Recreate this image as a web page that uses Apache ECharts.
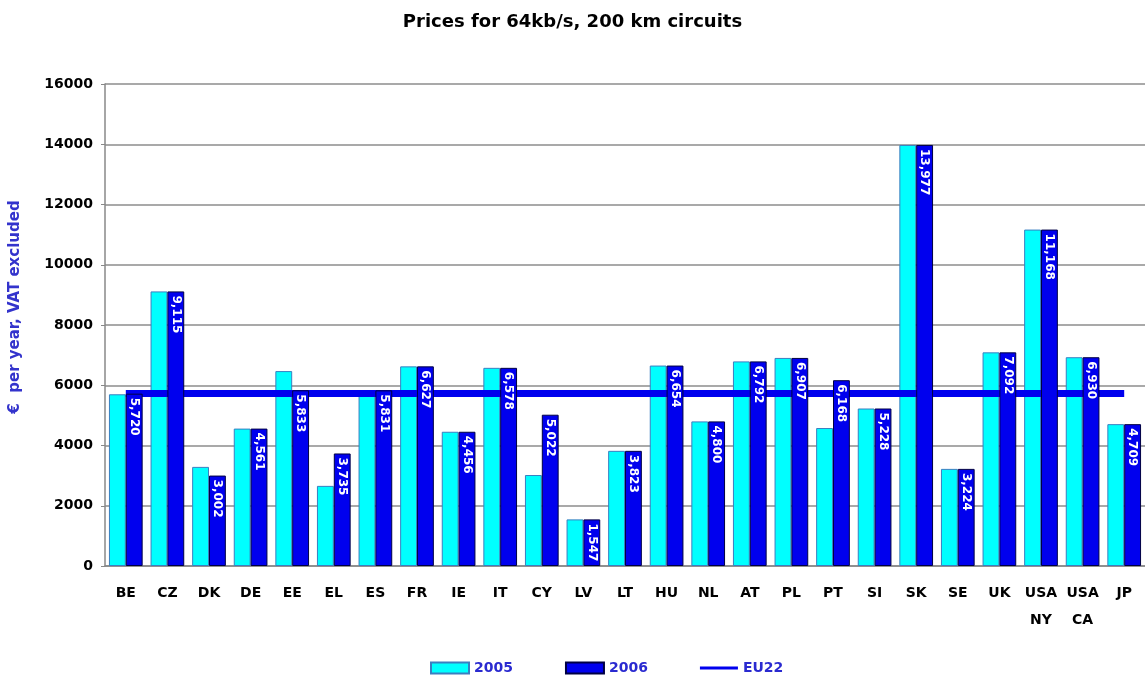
<!DOCTYPE html>
<html>
<head>
<meta charset="utf-8">
<script src="https://cdn.jsdelivr.net/npm/echarts@6/dist/echarts.min.js"></script>
<style>
  html, body { margin: 0; padding: 0; background: #fff; }
  #chart { width: 1145px; height: 678px; }
</style>
</head>
<body>
<div id="chart"></div>
<script>
// countries
const categories = ['BE', 'CZ', 'DK', 'DE', 'EE', 'EL', 'ES', 'FR', 'IE', 'IT', 'CY', 'LV', 'LT',
  'HU', 'NL', 'AT', 'PL', 'PT', 'SI', 'SK', 'SE', 'UK', 'USA\nNY', 'USA\nCA', 'JP'];

// 2005 (no labels in the picture)
const values2005 = [5700, 9115, 3290, 4561, 6470, 2660, 5831, 6627, 4456, 6578, 3020, 1547, 3823,
  6654, 4800, 6792, 6907, 4580, 5228, 13977, 3224, 7092, 11168, 6930, 4709];

// 2006 from the labels
const values2006 = [5720, 9115, 3002, 4561, 5833, 3735, 5831, 6627, 4456, 6578, 5022, 1547, 3823,
  6654, 4800, 6792, 6907, 6168, 5228, 13977, 3224, 7092, 11168, 6930, 4709];

// EU22 average, flat line
const eu22 = [5730, 5730, 5730, 5730, 5730, 5730, 5730, 5730, 5730, 5730, 5730, 5730, 5730,
  5730, 5730, 5730, 5730, 5730, 5730, 5730, 5730, 5730, 5730, 5730, 5730];

const yTicks = [0, 2000, 4000, 6000, 8000, 10000, 12000, 14000, 16000];

const myChart = echarts.init(document.getElementById('chart'));

const font = 'DejaVu Sans, Arial, sans-serif';

const option = {
  animation: false,
  textStyle: { fontFamily: font },
  title: {
    text: 'Prices for 64kb/s, 200 km circuits',
    left: 'center',
    top: 8,
    textStyle: { fontSize: 18, fontWeight: 'bold', color: '#000', fontFamily: font }
  },
  legend: {
    top: 656,
    left: 425,
    itemGap: 52,
    itemWidth: 38,
    itemHeight: 11,
    textStyle: { color: '#2a2ad0', fontWeight: 'bold', fontSize: 14, fontFamily: font },
    data: [
      { name: '2005', icon: 'rect' },
      { name: '2006', icon: 'rect' },
      { name: 'EU22', icon: 'path://M0,0 H38 V3 H0 Z' }
    ]
  },
  grid: {
    left: 99,
    right: 0,
    top: 84,
    bottom: 112
  },
  xAxis: {
    type: 'category',
    data: categories,
    axisLine: { lineStyle: { color: '#888', width: 1.5 } },
    axisTick: { show: false },
    axisLabel: {
      color: '#000',
      fontWeight: 'bold',
      fontSize: 14,
      fontFamily: font,
      interval: 0,
      margin: 14,
      lineHeight: 27
    }
  },
  yAxis: {
    type: 'value',
    min: yTicks[0],
    max: yTicks[yTicks.length - 1],
    interval: 2000,
    name: '€  per year, VAT excluded',
    nameLocation: 'middle',
    nameGap: 82,
    nameTextStyle: {
      color: '#3333cc', fontWeight: 'bold', fontSize: 15, fontFamily: font,
      padding: [0, 0, 0, 36]
    },
    axisLine: { show: true, lineStyle: { color: '#888', width: 1.5 } },
    axisTick: { show: true, length: 4, lineStyle: { color: '#888' } },
    axisLabel: {
      color: '#000', fontWeight: 'bold', fontSize: 14, fontFamily: font, margin: 12,
      formatter: v => String(v)
    },
    splitLine: { lineStyle: { color: '#8c8c8c', width: 1.5 } }
  },
  series: [
    {
      name: '2005',
      type: 'bar',
      z: 2,
      data: values2005,
      barGap: '0%',
      barCategoryGap: '19%',
      itemStyle: { color: '#00ffff', borderColor: '#3a7fc0', borderWidth: 1 }
    },
    {
      // drawn above the EU22 line so the white labels stay readable
      name: '2006',
      type: 'bar',
      z: 4,
      data: values2006,
      itemStyle: { color: '#0000ee', borderColor: '#000044', borderWidth: 1 },
      label: {
        show: true,
        position: 'insideTop',
        rotate: -90,
        align: 'left',
        verticalAlign: 'middle',
        distance: 4,
        color: '#fff',
        fontWeight: 'bold',
        fontSize: 12,
        fontFamily: font,
        formatter: p => p.value.toLocaleString('en-US')
      }
    },
    {
      name: 'EU22',
      type: 'line',
      z: 3,
      data: eu22,
      showSymbol: false,
      symbol: 'none',
      lineStyle: { color: '#0000ee', width: 7 },
      itemStyle: { color: '#0000ee' }
    }
  ]
};

option && myChart.setOption(option);
</script>
</body>
</html>
